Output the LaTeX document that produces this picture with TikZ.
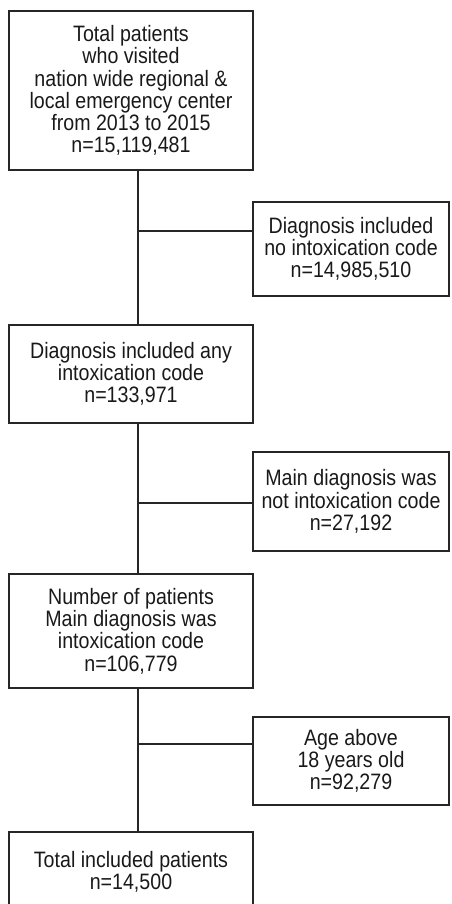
\documentclass[tikz,border=0pt]{standalone}
\usepackage{fontspec}
\setmainfont{Liberation Sans}[FakeStretch=0.88]
\begin{document}
\begin{tikzpicture}[x=1pt,y=-1pt,
  box/.style={draw=black!85, line width=1.6pt, align=center, inner sep=0pt,
    font=\fontsize{22.3}{22.3}\selectfont, text=black!90},
  conn/.style={draw=black!85, line width=1.6pt}]
\useasboundingbox (0,0) rectangle (451,904);
\node[box, minimum width=244, minimum height=159] (b1) at (131,90.5)
  {Total patients\\who visited\\nation wide regional \&\\local emergency center\\from 2013 to 2015\\n=15,119,481};
\node[box, minimum width=196, minimum height=94] (b2) at (351,249)
  {Diagnosis included\\no intoxication code\\n=14,985,510};
\node[box, minimum width=244, minimum height=98] (b3) at (131,374)
  {Diagnosis included any\\intoxication code\\n=133,971};
\node[box, minimum width=196, minimum height=99] (b4) at (351,501.5)
  {Main diagnosis was\\not intoxication code\\n=27,192};
\node[box, minimum width=244, minimum height=114] (b5) at (131,631)
  {Number of patients\\Main diagnosis was\\intoxication code\\n=106,779};
\node[box, minimum width=196, minimum height=88] (b6) at (351,761)
  {Age above\\18 years old\\n=92,279};
\node[box, minimum width=244, minimum height=80] (b7) at (131,872)
  {Total included patients\\n=14,500};
\coordinate (t1) at (138,231);
\coordinate (t2) at (138,503);
\coordinate (t3) at (138,744);
\draw[conn] (b1.south -| t1) -- (b3.north -| t1);
\draw[conn] (t1) -- (t1 -| b2.west);
\draw[conn] (b3.south -| t2) -- (b5.north -| t2);
\draw[conn] (t2) -- (t2 -| b4.west);
\draw[conn] (b5.south -| t3) -- (b7.north -| t3);
\draw[conn] (t3) -- (t3 -| b6.west);
\end{tikzpicture}
\end{document}
